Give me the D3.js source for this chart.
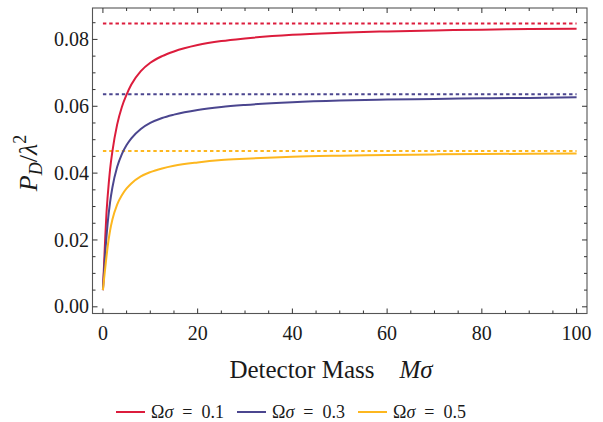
<!DOCTYPE html>
<html>
<head>
<meta charset="utf-8">
<script src="https://cdn.jsdelivr.net/npm/d3@7"></script>
<style>
  body { margin: 0; background: #fff; }
  svg { display: block; }
  svg text { font-family: "Liberation Serif", "DejaVu Serif", serif; }
</style>
</head>
<body>
<div id="chart"></div>
<script>
// detector mass values (x) where the curves were read
const mass = [0, 0.25, 0.5, 0.75, 1, 1.5, 2, 3, 4, 5, 6, 8, 10, 12.5, 15, 20, 25, 30, 40, 50, 60, 70, 80, 90, 100];

// P_D / lambda^2 for each Omega sigma
const p_01 = [0.005, 0.013, 0.021, 0.028, 0.033, 0.041, 0.0465, 0.0545, 0.0598, 0.0635, 0.0665, 0.0705, 0.0730, 0.0750, 0.0764, 0.0783, 0.0795, 0.0803, 0.0814, 0.0820, 0.0824, 0.0827, 0.0829, 0.0831, 0.0832];
const p_03 = [0.005, 0.011, 0.0165, 0.021, 0.0250, 0.0312, 0.0357, 0.0418, 0.0457, 0.0484, 0.0504, 0.0532, 0.0550, 0.0565, 0.0575, 0.0589, 0.0598, 0.0604, 0.0612, 0.0617, 0.0620, 0.0622, 0.0624, 0.0625, 0.0627];
const p_05 = [0.005, 0.0085, 0.0118, 0.0150, 0.0180, 0.0227, 0.0261, 0.0306, 0.0334, 0.0354, 0.0369, 0.0390, 0.0403, 0.0414, 0.0422, 0.0432, 0.0439, 0.0443, 0.0449, 0.0452, 0.0454, 0.0456, 0.0457, 0.0458, 0.0459];

// large-mass limits (dotted lines)
const limits = [0.0848, 0.0636, 0.0466];

const omega_labels = ["0.1", "0.3", "0.5"];
const colors = ["#dc1c3c", "#4b468f", "#fdb71f"];

const x_ticks = [0, 20, 40, 60, 80, 100];
const y_ticks = [0, 0.02, 0.04, 0.06, 0.08];

const chart_width = 603;
const chart_height = 422;
const m_left = 92.5, m_right = 587, m_top = 8, m_bottom = 313.5;

const x = d3.scaleLinear().domain([-2.2, 102.2]).range([m_left, m_right]);
const y = d3.scaleLinear().domain([-0.002, 0.0894]).range([m_bottom, m_top]);

const svg = d3.create("svg")
    .attr("width", chart_width)
    .attr("height", chart_height)
    .attr("viewBox", [0, 0, chart_width, chart_height]);

// curves
const series = [p_01, p_03, p_05];
const line = d3.line()
    .x(d => x(d[0]))
    .y(d => y(d[1]))
    .curve(d3.curveMonotoneX);

const plot = svg.append("g");

plot.selectAll("line.limit")
    .data(limits)
    .join("line")
    .attr("class", "limit")
    .attr("x1", x(0))
    .attr("x2", x(100))
    .attr("y1", d => y(d))
    .attr("y2", d => y(d))
    .attr("stroke", (d, i) => colors[i])
    .attr("stroke-width", 2)
    .attr("stroke-dasharray", "3.4,2.9");

plot.selectAll("path.curve")
    .data(series)
    .join("path")
    .attr("class", "curve")
    .attr("fill", "none")
    .attr("stroke", (d, i) => colors[i])
    .attr("stroke-width", 2)
    .attr("d", s => line(s.map((v, i) => [mass[i], v])));

// frame
svg.append("rect")
    .attr("x", m_left).attr("y", m_top)
    .attr("width", m_right - m_left).attr("height", m_bottom - m_top)
    .attr("fill", "none")
    .attr("stroke", "#555")
    .attr("stroke-width", 1.1);

// ticks on all four sides, pointing inward
const x_minor = d3.range(0, 101, 5);
const y_minor = d3.range(0, 0.0876, 0.005);
const ticks = svg.append("g").attr("stroke", "#333").attr("stroke-width", 1);

x_minor.forEach(v => {
    const len = v % 20 === 0 ? 5 : 3;
    ticks.append("line").attr("x1", x(v)).attr("x2", x(v)).attr("y1", m_bottom).attr("y2", m_bottom - len);
    ticks.append("line").attr("x1", x(v)).attr("x2", x(v)).attr("y1", m_top).attr("y2", m_top + len);
});
y_minor.forEach(v => {
    const major = Math.abs(v / 0.02 - Math.round(v / 0.02)) < 1e-6;
    const len = major ? 5 : 3;
    ticks.append("line").attr("y1", y(v)).attr("y2", y(v)).attr("x1", m_left).attr("x2", m_left + len);
    ticks.append("line").attr("y1", y(v)).attr("y2", y(v)).attr("x1", m_right).attr("x2", m_right - len);
});

// tick labels
svg.append("g")
    .selectAll("text")
    .data(x_ticks)
    .join("text")
    .attr("x", d => x(d))
    .attr("y", 340)
    .attr("text-anchor", "middle")
    .attr("font-size", 20)
    .attr("fill", "#1a1a1a")
    .text(d => d);

svg.append("g")
    .selectAll("text")
    .data(y_ticks)
    .join("text")
    .attr("x", 89)
    .attr("y", d => y(d))
    .attr("dy", "0.33em")
    .attr("text-anchor", "end")
    .attr("font-size", 20)
    .attr("fill", "#1a1a1a")
    .text(d => d3.format(".2f")(d));

// axis titles
const x_title = svg.append("text")
    .attr("x", 331)
    .attr("y", 378)
    .attr("text-anchor", "middle")
    .attr("font-size", 25)
    .attr("fill", "#1a1a1a");
x_title.append("tspan").text("Detector Mass\u2003");
x_title.append("tspan").attr("font-style", "italic").text("Mσ");

const y_title = svg.append("text")
    .attr("transform", "translate(37,163) rotate(-90)")
    .attr("text-anchor", "middle")
    .attr("font-size", 26)
    .attr("fill", "#1a1a1a");
y_title.append("tspan").attr("font-style", "italic").text("P");
y_title.append("tspan").attr("font-style", "italic").attr("font-size", 18).attr("dy", 5).text("D");
y_title.append("tspan").attr("dy", -5).text("/");
y_title.append("tspan").attr("font-style", "italic").text("λ");
y_title.append("tspan").attr("font-size", 18).attr("dy", -11).text("2");

// legend
const legend = svg.append("g")
    .selectAll("g")
    .data(omega_labels)
    .join("g")
    .attr("transform", (d, i) => `translate(${116 + i * 121},412)`);

legend.append("line")
    .attr("x1", 0).attr("x2", 29)
    .attr("y1", 0).attr("y2", 0)
    .attr("stroke", (d, i) => colors[i])
    .attr("stroke-width", 2);

const legend_text = legend.append("text")
    .attr("x", 35)
    .attr("y", 6)
    .attr("font-size", 18)
    .attr("fill", "#1a1a1a");
legend_text.append("tspan").text("Ω");
legend_text.append("tspan").attr("font-style", "italic").text("σ");
legend_text.append("tspan").text(d => `\u2002=\u2002${d}`);

document.getElementById("chart").append(svg.node());
</script>
</body>
</html>
